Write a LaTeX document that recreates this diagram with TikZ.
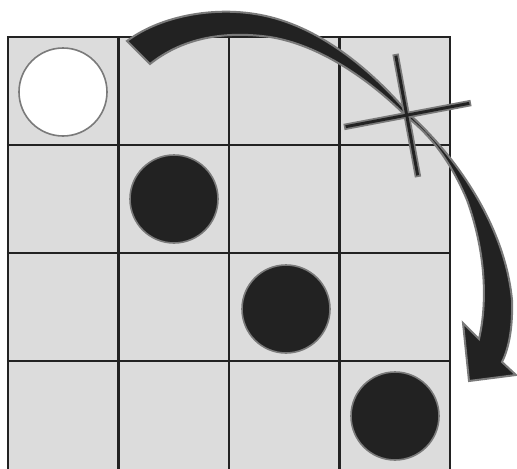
\documentclass[tikz,border=0pt]{standalone}
\usetikzlibrary{positioning}
\definecolor{cellgray}{HTML}{DCDCDC}
\definecolor{ink}{HTML}{222222}
\definecolor{rim}{HTML}{7A7A7A}

\begin{document}
\begin{tikzpicture}[x=0.75pt, y=-0.75pt,
    gridline/.style={draw=ink, line width=2.1pt},
    piece/.style={circle, minimum size=66pt, inner sep=0pt, draw=rim, line width=1.2pt},
    band/.style={fill=ink, draw=rim, line width=1.5pt, line join=miter},
    rod/.style={draw=rim, line width=4.8pt},
    rodcore/.style={draw=ink, line width=2.2pt, shorten <=1.3pt, shorten >=1.3pt}
]
\useasboundingbox (0,0) rectangle (517,468);
\clip (0,0) rectangle (517,468);

% Board
\fill[cellgray] (8,37) rectangle (450,472);
\foreach \x in {8,118.5,229,339.5,450}
    \draw[gridline] (\x,37) -- (\x,472);
\foreach \y in {37,145,253,361}
    \draw[gridline] (6.95,\y) -- (451.05,\y);

% Pieces
\node[piece, fill=white] (start) at (63,92) {};
\node[piece, fill=ink] (stepA) at (174,199) {};
\node[piece, fill=ink] (stepB) at (286,309) {};
\node[piece, fill=ink] (stepC) at (395,416) {};

% Curved arrow
\filldraw[band] (127,41) .. controls (160,16) and (218,4) .. (270,17)
    .. controls (330,32) and (380,80) .. (408,113)
    .. controls (455,155) and (505,225) .. (512,300)
    .. controls (513,330) and (508,350) .. (502,362)
    -- (516,375) -- (469,381) -- (463,323) -- (479,339)
    .. controls (488,300) and (485,250) .. (467,200)
    .. controls (450,160) and (430,135) .. (407,117)
    .. controls (370,80) and (320,45) .. (270,37)
    .. controls (220,30) and (180,40) .. (150,64) -- cycle;

% Cross
\coordinate (crossN) at (395.5,54);
\coordinate (crossS) at (418,177);
\coordinate (crossW) at (344,127);
\coordinate (crossE) at (471,103);
\foreach \a/\b in {crossN/crossS, crossW/crossE}
    \draw[rod] (\a) -- (\b);
\foreach \a/\b in {crossN/crossS, crossW/crossE}
    \draw[rodcore] (\a) -- (\b);

\end{tikzpicture}
\end{document}
